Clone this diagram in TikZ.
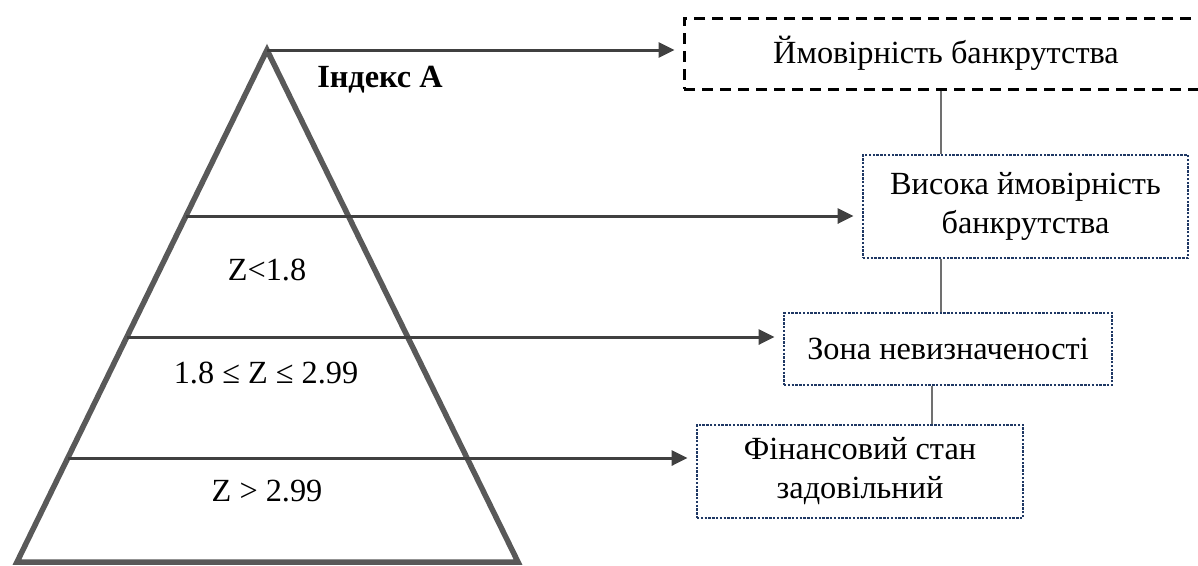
\documentclass[tikz,border=0pt]{standalone}
\usepackage{fontspec}
\setmainfont{Liberation Serif}
\usetikzlibrary{arrows.meta,calc}
\definecolor{tricol}{HTML}{595959}
\definecolor{arrcol}{HTML}{404040}
\definecolor{navy}{HTML}{1F3864}
\definecolor{conncol}{HTML}{707070}
\newcommand\myfs{\fontsize{32.3}{39}\selectfont}
\tikzset{
  tri/.style={draw=tricol,line width=5.5pt,line join=miter},
  arr/.style={draw=arrcol,line width=3pt,-{Triangle[length=16pt,width=15pt]},shorten >=8pt},
  dashbox/.style={draw=black,line width=3pt,dash pattern=on 11pt off 7pt,inner sep=0pt,font=\myfs},
  dotbox/.style={draw=navy,line width=2.8pt,dash pattern=on 2.4pt off 1.4pt,align=center,inner sep=0pt,font=\myfs},
  conn/.style={draw=conncol,line width=1.5pt},
  lbl/.style={font=\myfs,inner sep=0pt}
}
\begin{document}
\begin{tikzpicture}[x=1pt,y=-1pt]
\useasboundingbox (0,0) rectangle (1198,565);
\clip (0,0) rectangle (1198,565);
% triangle
\coordinate (apex) at (267,50);
\coordinate (bl) at (17,562);
\coordinate (br) at (518,562);
\draw[tri] (apex) -- (bl) -- (br) -- cycle;
% line starts on left edge
\coordinate (s1) at (186,216);
\coordinate (s2) at (127,337);
\coordinate (s3) at (68,458);
% boxes
\node[dashbox,minimum width=524pt,minimum height=71pt] (b1) at (946,53.5) {Ймовірність банкрутства};
\node[dotbox,minimum width=325pt,minimum height=103pt] (b2) at (1025.5,206.5) {Висока ймовірність\\банкрутства};
\node[dotbox,minimum width=328pt,minimum height=72pt] (b3) at (948,349) {Зона невизначеності};
\node[dotbox,minimum width=326pt,minimum height=93pt] (b4) at (860,471.5) {Фінансовий стан\\задовільний};
% arrows
\draw[arr] (apex) -- (apex -| b1.west);
\draw[arr] (s1) -- (s1 -| b2.west);
\draw[arr] (s2) -- (s2 -| b3.west);
\draw[arr] (s3) -- (s3 -| b4.west);
% connectors between boxes
\coordinate (v1) at (941,0);
\coordinate (v2) at (932,0);
\draw[conn] (v1 |- b1.south) -- (v1 |- b2.north);
\draw[conn] (v1 |- b2.south) -- (v1 |- b3.north);
\draw[conn] (v2 |- b3.south) -- (v2 |- b4.north);
% labels
\node[lbl,font=\myfs\bfseries] (idx) at (380,80) {Індекс А};
\node[lbl] (z1) at (267,270) {Z<1.8};
\node[lbl] (z2) at (266,373) {1.8 ≤ Z ≤ 2.99};
\node[lbl] (z3) at (267,491) {Z > 2.99};
\end{tikzpicture}
\end{document}
